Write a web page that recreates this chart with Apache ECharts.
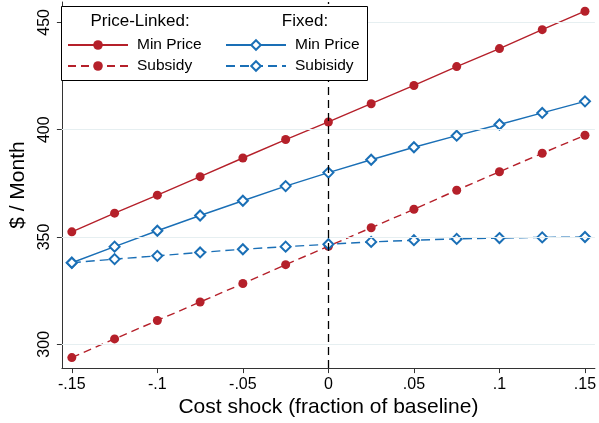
<!DOCTYPE html>
<html>
<head>
<meta charset="utf-8">
<script src="https://cdn.jsdelivr.net/npm/echarts@6/dist/echarts.min.js"></script>
<style>
html,body{margin:0;padding:0;background:#fff;}
#chart{width:599px;height:423px;}
</style>
</head>
<body>
<div id="chart"></div>
<script>
const xVals = [-0.15,-0.125,-0.1,-0.075,-0.05,-0.025,0,0.025,0.05,0.075,0.1,0.125,0.15];
const plMin = [352.4,361.1,369.5,378.1,386.8,395.4,403.6,412.1,420.6,429.4,437.8,446.6,455.2];
const plSub = [293.8,302.5,311.1,319.7,328.3,337.1,345.7,354.3,362.9,371.8,380.4,389.0,397.4];
const fxMin = [338.0,345.5,352.9,360.0,366.9,373.7,380.0,386.0,391.8,397.2,402.4,407.8,413.2];
const fxSub = [338.0,339.7,341.2,342.8,344.3,345.5,346.6,347.7,348.5,349.1,349.5,349.8,350.0];
const xTickVals = [-0.15,-0.1,-0.05,0,0.05,0.1,0.15];
const xTickLabels = ['-.15','-.1','-.05','0','.05','.1','.15'];
const yTickVals = [300,350,400,450];
const seriesNames = {PL_min:'Min Price', PL_sub:'Subsidy', FX_min:'Min Price', FX_sub:'Subisidy'};

const RED = '#b5202a';
const BLUE = '#1a6fb6';
const FONT = 'Liberation Sans, Arial, sans-serif';

function pairs(ys){ return xVals.map((x,i)=>[x, ys[i]]); }

const chart = echarts.init(document.getElementById('chart'), null, {renderer:'canvas'});
const legendCommon = {
  orient:'vertical', padding:0, itemWidth:60, itemHeight:12, itemGap:5, z:60,
  textStyle:{fontFamily:FONT, fontSize:15.5, color:'#000', padding:[0,0,0,4]},
  formatter: n => seriesNames[n], selectedMode:false
};
chart.setOption({
  animation:false,
  grid:{left:56, right:3, top:2, bottom:51},
  xAxis:{
    type:'value', min:-0.1558, max:0.1558,
    name:'Cost shock (fraction of baseline)', nameLocation:'middle', nameGap:23,
    nameTextStyle:{fontFamily:FONT, fontSize:21, color:'#000'},
    axisLine:{show:true, onZero:false, lineStyle:{color:'#333', width:1}},
    axisTick:{show:true, length:5, customValues:xTickVals, lineStyle:{color:'#333'}},
    axisLabel:{customValues:xTickVals, margin:8, fontFamily:FONT, fontSize:16, color:'#000',
      formatter: v => { let b=0,d=1e9; xTickVals.forEach((t,i)=>{ if(Math.abs(t-v)<d){d=Math.abs(t-v);b=i;} }); return xTickLabels[b]; }},
    splitLine:{show:false}
  },
  yAxis:{
    type:'value', min:288.9, max:459.5,
    name:'$ / Month', nameLocation:'middle', nameGap:30,
    nameTextStyle:{fontFamily:FONT, fontSize:21, color:'#000'},
    axisLine:{show:true, onZero:false, lineStyle:{color:'#333', width:1}},
    axisTick:{show:true, length:5, customValues:yTickVals, lineStyle:{color:'#333'}},
    axisLabel:{customValues:yTickVals, rotate:90, margin:9, fontFamily:FONT, fontSize:16, color:'#000'},
    splitLine:{show:false}
  },
  legend:[
    Object.assign({}, legendCommon, {data:['PL_min','PL_sub'], left:67, top:37}),
    Object.assign({}, legendCommon, {data:['FX_min','FX_sub'], left:225, top:37})
  ],
  graphic:[
    {type:'rect', z:50, shape:{x:61.5, y:6.5, width:306, height:74}, style:{fill:'#fff', stroke:'#000', lineWidth:1}},
    {type:'text', z:60, x:140, y:21, style:{text:'Price-Linked:', font:'17px '+FONT, fill:'#000', align:'center', verticalAlign:'middle'}},
    {type:'text', z:60, x:305, y:21, style:{text:'Fixed:', font:'17px '+FONT, fill:'#000', align:'center', verticalAlign:'middle'}}
  ],
  series:[
    {type:'line', name:'gridref', data:[], silent:true, z:0,
      markLine:{silent:true, symbol:'none', label:{show:false}, animation:false,
        lineStyle:{color:'#e6eff1', width:1, type:'solid'},
        data: yTickVals.map(v=>({yAxis:v}))}},
    {type:'line', name:'zeroref', data:[], silent:true, z:1,
      markLine:{silent:true, symbol:'none', label:{show:false}, animation:false,
        lineStyle:{color:'#000', width:1.3, type:[8,5]},
        data:[{xAxis:0}]}},
    {type:'line', name:'PL_min', data:pairs(plMin), symbol:'circle', symbolSize:9,
      lineStyle:{color:RED, width:1.4}, itemStyle:{color:RED}, z:3},
    {type:'line', name:'PL_sub', data:pairs(plSub), symbol:'circle', symbolSize:9,
      lineStyle:{color:RED, width:1.4, type:[8,5]}, itemStyle:{color:RED}, z:3},
    {type:'line', name:'FX_min', data:pairs(fxMin), symbol:'emptyDiamond', symbolSize:10,
      lineStyle:{color:BLUE, width:1.4}, itemStyle:{color:BLUE, borderWidth:1.4}, z:4},
    {type:'line', name:'FX_sub', data:pairs(fxSub), symbol:'emptyDiamond', symbolSize:10,
      lineStyle:{color:BLUE, width:1.4, type:[9,5]}, itemStyle:{color:BLUE, borderWidth:1.4}, z:4}
  ]
});
</script>
</body>
</html>
